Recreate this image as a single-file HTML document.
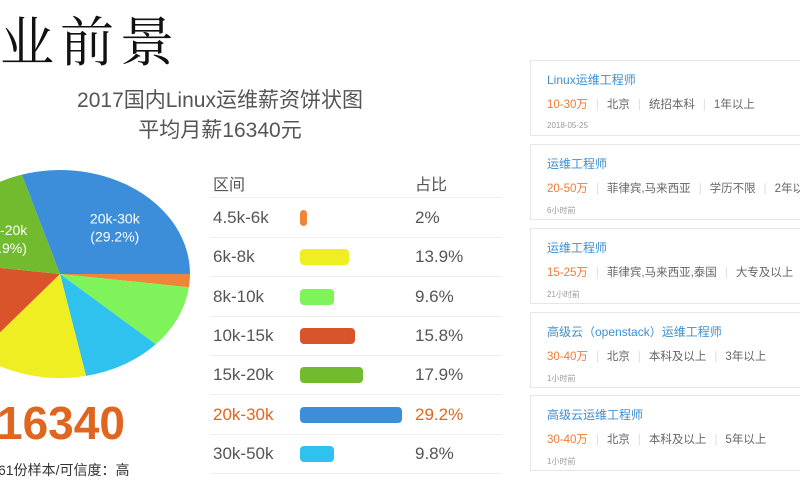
<!DOCTYPE html>
<html><head><meta charset="utf-8">
<style>
body{margin:0;width:800px;height:500px;background:#fff;position:relative;overflow:hidden;font-family:"Liberation Sans","Noto Sans CJK SC",sans-serif;}
.abs{position:absolute;}
.card{position:absolute;left:530px;width:270px;border:1px solid #e6e6e6;border-right:none;box-sizing:border-box;background:#fff;overflow:hidden;}
.card .t{position:absolute;left:16px;top:10px;font-size:12px;color:#3d8fd0;white-space:nowrap;}
.card .m{position:absolute;left:16px;top:35px;font-size:11.5px;color:#666;white-space:nowrap;}
.card .m b{font-weight:normal;color:#f07b32;}
.card .m i{font-style:normal;color:#ddd;margin:0 8px;}
.card .d{position:absolute;left:16px;top:60px;font-size:8px;color:#999;}
.row{position:absolute;left:210px;width:292px;height:39px;border-bottom:1px solid #eee;font-size:17px;color:#555;}
.row .a{position:absolute;left:3px;top:10px;}
.row .p{position:absolute;left:205px;top:10px;}
.row .bar{position:absolute;left:90px;top:12px;height:16px;border-radius:4px;}
</style></head><body>
<div class="abs" style="left:-60px;top:0px;font-family:'Liberation Serif','Noto Serif CJK SC',serif;font-size:54px;letter-spacing:6px;color:#111;white-space:nowrap;">职业前景</div>
<div class="abs" style="left:20px;top:86px;width:400px;text-align:center;font-size:21px;color:#555;line-height:30px;">2017国内Linux运维薪资饼状图<br>平均月薪16340元</div>
<svg class="abs" style="left:0;top:0" width="200" height="400" id="pie"></svg>
<div class="abs" style="left:-3px;top:396px;font-size:46px;font-weight:bold;color:#e0661f;">16340</div>
<div class="abs" style="left:-2px;top:460px;font-size:14px;color:#333;">61份样本/可信度：高</div>
<div class="row" style="top:158px;"><span class="a" style="top:13px;font-size:16px">区间</span><span class="p" style="top:13px;font-size:16px">占比</span></div>
<div id="rows"></div>

<div class="card" style="top:60px;height:76px"><div class="t">Linux运维工程师</div><div class="m"><b>10-30万</b><i>|</i>北京<i>|</i>统招本科<i>|</i>1年以上</div><div class="d">2018-05-25</div></div>
<div class="card" style="top:144px;height:76px"><div class="t">运维工程师</div><div class="m"><b>20-50万</b><i>|</i>菲律宾,马来西亚<i>|</i>学历不限<i>|</i>2年以上</div><div class="d">6小时前</div></div>
<div class="card" style="top:228px;height:76px"><div class="t">运维工程师</div><div class="m"><b>15-25万</b><i>|</i>菲律宾,马来西亚,泰国<i>|</i>大专及以上</div><div class="d">21小时前</div></div>
<div class="card" style="top:312px;height:76px"><div class="t">高级云（openstack）运维工程师</div><div class="m"><b>30-40万</b><i>|</i>北京<i>|</i>本科及以上<i>|</i>3年以上</div><div class="d">1小时前</div></div>
<div class="card" style="top:395px;height:76px"><div class="t">高级云运维工程师</div><div class="m"><b>30-40万</b><i>|</i>北京<i>|</i>本科及以上<i>|</i>5年以上</div><div class="d">1小时前</div></div>

<script>
const categories=["4.5k-6k","6k-8k","8k-10k","10k-15k","15k-20k","20k-30k","30k-50k"];
const shares=[2,13.9,9.6,15.8,17.9,29.2,9.8];
const colors=["#f0843a","#eeee22","#7ef35a","#d9542a","#72bb2e","#3c8edb","#2fc2ee"];
const pieOrder=[0,2,6,1,3,4,5];
const ns="http://www.w3.org/2000/svg";
const svg=document.getElementById('pie');
const cx=60,cy=274,rx=130,ry=104;
const total=shares.reduce((a,b)=>a+b,0);
let ang=0;
pieOrder.forEach(i=>{
  const a0=ang, a1=ang+shares[i]/total*2*Math.PI; ang=a1;
  const x0=cx+rx*Math.cos(a0),y0=cy+ry*Math.sin(a0),x1=cx+rx*Math.cos(a1),y1=cy+ry*Math.sin(a1);
  const p=document.createElementNS(ns,'path');
  p.setAttribute('d',`M${cx},${cy}L${x0},${y0}A${rx},${ry} 0 ${a1-a0>Math.PI?1:0} 1 ${x1},${y1}Z`);
  p.setAttribute('fill',colors[i]);
  
  
  svg.appendChild(p);
  if(i===5||i===4){
    const m=(a0+a1)/2, lx=cx+rx*0.58*Math.cos(m)+(i===5?10:0), ly=cy+ry*0.58*Math.sin(m)+(i===5?-2:0);
    [categories[i],'('+shares[i]+'%)'].forEach((s,k)=>{
      const t=document.createElementNS(ns,'text');
      t.setAttribute('x',lx);t.setAttribute('y',ly+k*18);t.setAttribute('text-anchor','middle');
      t.setAttribute('font-size','14');t.setAttribute('fill','#fff');
      
      
      t.textContent=s;svg.appendChild(t);
    });
  }
});
const rows=document.getElementById('rows');
categories.forEach((c,i)=>{
  const r=document.createElement('div');r.className='row';
  
  
  r.style.top=(198+i*39.3)+'px';
  if(i===5) r.style.color='#e0661f';
  r.innerHTML=`<span class="a">${c}</span><span class="bar" style="width:${Math.max(6,shares[i]*3.5)}px;background:${colors[i]}"></span><span class="p">${shares[i]}%</span>`;
  rows.appendChild(r);
});
</script>
</body></html>
